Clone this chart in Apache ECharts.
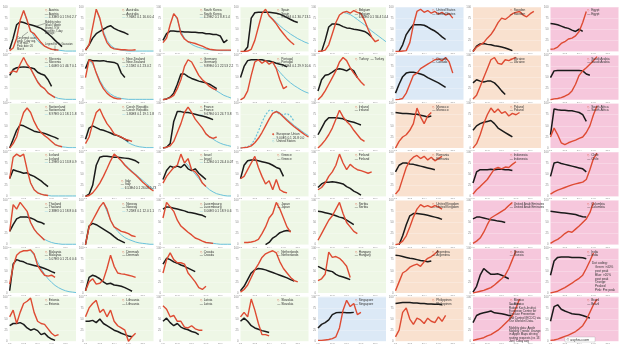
<!DOCTYPE html>
<html><head><meta charset="utf-8">
<script src="https://cdn.jsdelivr.net/npm/echarts@6/dist/echarts.min.js"></script>
<style>html,body{margin:0;padding:0;background:#fff}#c{width:620px;height:348px}</style>
</head><body><div id="c"></div>
<script>
const _ = null;
// x categories (weekly) and tick labels
const days = ['1/3','8/3','15/3','22/3','29/3','5/4','12/4','19/4','26/4','3/5','10/5','17/5','24/5','31/5','7/6','14/6','21/6','28/6','5/7','12/7'];
const yTicks = [0, 25, 50, 75, 100];
// Row 1
const AUT_r = [2,8,30,70,92,70,45,40,30,20,12,8,5,4,3];
const AUT_b = [5,30,60,67,65,62,60,58,55,52,47,40,33,25,18,11];
const AUT_f = [_,_,_,_,92,68,48,34,24,17,12,8,5,4,3,2,1,1,1,1];
const AUS_r = [3,15,55,95,75,40,20,10,6,5,4,4,3,3,4];
const AUS_b = [3,15,30,40,45,50,55,58,52,48,45,42,38];
const AUS_f = [_,_,_,95,72,45,25,14,8,5,3,2,1,1,1,1,1,1,1,1];
const KOR_r = [20,30,60,85,75,40,28,22,20,18,15,12,8,5,4,3,3,3,3,3];
const KOR_b = [25,40,46,46,45,45,44,44,43,43,42,42,40,40,38,38,35,20,26];
const KOR_f = [_,_,_,85,72,45,30,22,16,12,9,7,5,4,3,3,2,2,2,2];
const ESP_r = [0,0,1,5,25,55,85,95,80,72,62,50,40,30,22,15];
const ESP_b = [_,0,10,75,87,88,88,88,88,87,86,84,80,76,72,68,65];
const ESP_f = [_,_,_,_,_,_,_,_,82,74,66,58,51,45,39,34,29,25,21,18];
const BEL_r = [0,1,3,15,40,65,82,88,90,86,92,88,85,70,50,32,22,26];
const BEL_b = [_,0,25,55,62,62,60,56,53,52,50,49,47,45,40,33];
const BEL_f = [_,_,_,_,_,_,_,88,86,83,78,72,66,60,53,46,40,34,28,22];
const USA_r = [0,0,1,2,20,60,90,95,88,92,86,90,84,88,82,85,75];
const USA_b = [_,0,15,38,50,60,60,60,59,55,50,46,40,33,27];
const SWE_r = [0,10,15,20,30,38,50,65,75,72,78,85,88,90,82,78,85,90];
const SWE_b = [0,12,17,18,16,15,13,12,10,8,5,2];
const EGY_r = [5,6,10,18,22,28,30,35,45,65,90];
const EGY_b = [63,62,60,57,54,52,48,45,50,45];
// Row 2
const SVN_r = [60,65,62,80,95,80,70,55,40,30,25,15,10,5];
const SVN_b = [55,68,72,73,74,73,72,70,62,58,55,45,30];
const SVN_f = [_,_,_,_,_,_,70,55,42,32,24,16,10,6,3,2,1,1,1,1];
const NZL_r = [50,90,85,60,40,25,15,8,4,2,2];
const NZL_b = [70,90,88,88,87,88,86,85,84,80,60,50];
const NZL_f = [_,90,80,62,44,30,20,13,8,5,3,2,1,1,1,1,1,1,1,1];
const DEU_r = [0,2,5,10,25,45,75,90,85,70,55,45,38,30,25,22];
const DEU_b = [0,2,6,15,35,58,58,52,48,45,42,40,38,35,30,25];
const DEU_f = [_,_,_,_,_,_,_,_,_,_,_,_,_,_,25,20,15,10,7,4];
const PRT_r = [0,5,20,55,85,90,82,88,80,85,70,45,25,30];
const PRT_b = [50,75,88,90,90,90,90,88,87,85,82,80,78,74];
const PRT_f = [_,_,_,_,_,_,_,_,_,82,72,62,53,45,38,32,27,22,18,15];
const TUR_r = [0,8,20,35,50,65,85,95,88,72,60,50,40,32];
const TUR_b = [20,45,55,57,62,68,70,68,65,70,65,50];
const CAN_r = [0,1,3,15,35,55,60,70,75,80,85,90,92,88,95,85,60];
const CAN_b = [15,35,52,60,62,62,60,58,55,50,46,42,38,33,28];
const UKR_r = [2,10,30,50,70,90,95,82,80,90,88,92,95];
const UKR_b = [38,45,42,40,42,42,38,30,20,12];
const SAU_r = [0,2,3,5,8,12,20,35,55,65,72,80,88,97];
const SAU_b = [50,65,66,66,66,66,66,66,66,65,58,55];
// Row 3
const CHE_r = [0,10,25,55,80,90,80,60,45,35,28,22,15,8,5,3];
const CHE_b = [0,20,40,52,50,46,42,38,36,35,33,30,27,24,20];
const CHE_f = [_,_,_,_,_,_,_,_,_,_,_,_,_,8,5,3,2,1,1,1];
const CZE_r = [10,25,55,80,88,70,55,45,32,28,25,20,18,15];
const CZE_b = [20,45,50,46,42,40,37,34,30,28,24,20,15];
const CZE_f = [_,_,_,_,_,_,_,_,_,28,24,18,12,8,5,3,2,1,1,1];
const FRA_r = [0,2,5,15,35,55,80,92,80,65,55,45,32,25,22,25];
const FRA_b = [0,2,10,60,82,82,80,80,78,76,74,72,70,67,64];
const FRA_f = [_,_,_,_,_,_,_,_,_,_,_,_,32,26,20,15,11,8,6,4];
const EU_r = [0,1,2,5,12,22,35,50,65,78,82,78,70,62,55,48,42,36,30,25];
const EU_us = [0,1,3,8,20,38,58,75,85,84,80,76,75,78,72,60];
const EU_f = [_,_,_,_,_,_,_,_,_,_,84,79,72,65,58,51,45,39,33,28];
const IRL_r = [0,8,18,30,45,65,85,70,60,52,40,30,20,15];
const IRL_b = [30,45,60,68,68,68,67,66,62,60,58,55,52];
const MAR_r = [0,15,25,30,40,55,90,70,55,72,80];
const MAR_b = [80,79,78,78,77,76,76,74,72,70,72];
const POL_r = [0,10,30,55,75,90,80,88,78,82,72,78,75,80];
const POL_b = [40,50,55,58,60,62,55,45,40,35,30,25];
const ZAF_r = [25,45,30,12,8,12,15,18,22,25,35,50,75,95];
const ZAF_b = [30,88,86,85,85,84,84,82,80,75,60];
// Row 4
const ISL_r = [40,88,95,90,95,60,30,15,8,5,3,2];
const ISL_b = [40,60,57,55,52,53,48,45,40,35,28,22];
const ISL_f = [_,_,_,_,_,_,30,16,9,5,3,2,1,1,1,1,1,1,1,1];
const ITA_r = [0,2,8,18,30,45,62,80,95,88,80,70,62,55,48,40,32,25,18,12];
const ITA_b = [0,5,25,70,88,90,90,89,88,88,87,86,85,83,80,75];
const ITA_f = [_,_,_,_,_,_,_,_,95,88,80,72,64,57,50,43,36,29,22,16];
const ISR_r = [30,45,55,65,70,95,75,85,60,55,45,30,22];
const ISR_b = [38,58,68,65,68,65,72,62,58,62,52,45,38];
const ISR_f = [_,_,_,_,_,_,78,70,60,50,40,30,22,15,10,6,4,2,1,1];
const GRC_r = [40,45,60,75,90,65,45,28,35,15,38,15,10,8];
const GRC_b = [40,70,80,82,82,80,78,76,74,70,65,62,45];
const FIN_r = [15,20,30,45,55,70,95,75,60,72,65,60,58,55,52,55];
const FIN_b = [20,28,32,32,33,32,30,28,22,18,12,8,3];
const ROU_r = [5,15,40,65,80,88,92,85,90,82,88,80,85,90];
const ROU_b = [55,70,75,75,73,72,70,68,66,64,62,60];
const IDN_r = [5,15,22,30,38,50,62,65,62,66,65,72,78];
const IDN_b = [30,55,60,60,60,61,60,61,61,60,60,58];
const CHL_r = [5,10,14,17,20,23,26,28,30,32,38,60,85,97];
const CHL_b = [45,75,77,74,72,70,68,66,64,62,55];
// Row 5
const THA_r = [30,90,80,95,85,75,50,35,25,18,10];
const THA_b = [30,45,58,62,62,62,60,57,52,50,46];
const THA_f = [_,_,_,_,_,70,50,35,25,17,12,8,5,3,2,1,1,1,1,1];
const NOR_r = [0,40,55,70,85,95,80,55,40,35,30,28,25,20,18];
const NOR_b = [0,42,48,45,40,35,30,25,18,12,8,4];
const NOR_f = [_,_,_,_,_,95,75,55,40,30,22,16,12,9,6,4,3,2,1,1];
const LUX_r = [60,95,85,75,55,42,35,28,22,15,12,8,5,4,3];
const LUX_b = [80,85,84,82,80,78,76,73,72,70,68,66,62];
const LUX_f = [_,_,_,_,_,_,_,_,_,_,_,_,5,4,3,2,1,1,1,1];
const JPN_r = [_,5,5,6,8,12,25,40,60,70,95,80,60,40,28];
const JPN_b = [_,_,_,_,_,_,_,0,5,15,20,27,30,32,30];
const SRB_r = [10,25,40,55,65,80,95,70,50,40,30,25];
const SRB_b = [75,74,72,70,68,65,62,60,55,50,45];
const GBR_r = [0,2,8,20,40,62,80,90,85,88,84,88,85,80];
const GBR_b = [_,0,20,45,65,70,70,69,68,66,64,62,60,57];
const ARE_r = [3,8,15,28,45,60,65,70,75,80,88,95];
const ARE_b = [58,62,62,60,58,56,55,53,52,50];
const COL_r = [3,8,12,18,25,30,28,35,42,50,58,72,95];
const COL_b = [75,74,73,72,71,70,69,68,65,63,62];
// Row 6
const MYS_r = [20,60,85,92,95,95,97,88,62,50,40,38,40,35];
const MYS_b = [5,65,75,72,70,66,64,62,60,58,55,52,48,45];
const MYS_f = [_,_,_,_,_,_,95,85,70,55,42,32,24,17,12,8,5,3,2,1];
const DNK_r = [5,25,32,20,22,30,55,85,60,45,43,42,40,38,35];
const DNK_b = [5,35,40,37,32,25,20,22,18,17,15,12,8,4];
const HRV_r = [45,75,90,75,68,68,65,45,35,25,12,8,15];
const HRV_b = [65,78,75,70,67,63,60,56,52,48];
const NLD_r = [2,8,18,35,52,65,80,88,92,95,90,70,55,45,35,28,25];
const NLD_b = [5,15,30,45,52,55,54,52,49,46,43,40,37,34,30,27];
const HUN_r = [28,32,42,92,80,82,78,70,60,35];
const HUN_b = [60,56,52,50,48,42,38,36,33,30];
const ARG_r = [5,25,45,50,58,62,65,60,70,78,82,88,95];
const ARG_b = [85,84,82,80,78,77,75,73,72,70,72];
const RUS_r = [0,2,4,6,9,12,18,25,32,40,55,75,95];
const RUS_b = [2,15,40,55,48,42,42,43,40,36,32];
const IND_r = [0,2,4,8,12,17,22,28,33,40,55,72,90];
const IND_b = [40,72,80,81,81,81,80,80,80,79,77];
// Row 7
const EST_r = [55,70,40,65,85,90,97,65,45,40,38,28,18,12,15];
const EST_b = [35,40,40,42,38,30,25,28,24,15,18,10,5,2];
const LTU_r = [55,75,85,92,65,72,55,70,45,35,30,25,0,10,18];
const LTU_b = [45,45,47,42,50,40,35,30,25,22,18,15,12,10];
const LVA_r = [80,72,55,58,45,45,32,30,35,28,25,25];
const LVA_b = [45,52,42,35,40,32,28,26,22,20,15];
const SVK_r = [55,65,55,95,70,40,15,15,12];
const SVK_b = [45,52,45,35,30,27,24,22,20];
const SGP_r = [2,2,3,4,6,10,30,70,92,78,85,60,65];
const SGP_b = [30,38,42,48,60,64,65,65,64,64,65];
const PHL_r = [10,25,65,75,50,38,52,48,40,52,45,42,55,45,58];
const PHL_b = [85,86,87,87,87,86,86,85,85,84,84,83,83,82];
const MEX_r = [2,4,6,8,12,15,20,25,32,40,48,58,75,95];
const MEX_b = [42,58,62,64,66,68,64,63,62,60,58,57];
const BRA_r = [2,3,5,8,11,14,18,22,28,35,48,65,82,95];
const BRA_b = [45,78,82,72,68,65,62,61,60,58,55,52];

// panel backgrounds per row: G green, B blue, P peach, K pink
const rowBg = ['GGGGGBPK','GGGGGBPK','GGGGGPPK','GGGGGPKK','GGGGGPKK','GGGGGPKK','GGGGBPKK'];
const panels = [
 ['Austria',AUT_r,AUT_b,AUT_f,'4.33E3 0.1 19.6 2.7'],['Australia',AUS_r,AUS_b,AUS_f,'7.96E2 0.1 16.6 0.4'],['South Korea',KOR_r,KOR_b,KOR_f,'4.29E2 0.1 8.8 1.4'],['Spain',ESP_r,ESP_b,ESP_f,'9.56E4 0.1 30.7 13.1'],['Belgium',BEL_r,BEL_b,BEL_f,'6.06E4 0.1 34.4 14.4'],['United States',USA_r,USA_b,null,''],['Sweden',SWE_r,SWE_b,null,''],['Egypt',EGY_r,EGY_b,null,''],
 ['Slovenia',SVN_r,SVN_b,SVN_f,'1.60E3 0.1 46.7 0.1'],['New Zealand',NZL_r,NZL_b,NZL_f,'2.15E2 0.1 23.0 2'],['Germany',DEU_r,DEU_b,DEU_f,'9.89E4 0.1 22.53 2.2'],['Portugal',PRT_r,PRT_b,PRT_f,'1.40E4 0.1 29.9 10.6'],['Turkey',TUR_r,TUR_b,null,''],['Canada',CAN_r,CAN_b,null,''],['Ukraine',UKR_r,UKR_b,null,''],['Saudi Arabia',SAU_r,SAU_b,null,''],
 ['Switzerland',CHE_r,CHE_b,CHE_f,'8.97E3 0.1 18.1 1.8'],['Czech Republic',CZE_r,CZE_b,CZE_f,'1.80E3 0.1 19.1 1.8'],['France',FRA_r,FRA_b,FRA_f,'9.67E4 0.1 24.7 3.8'],['European Union',EU_r,null,EU_f,'9.00E5 0.1 26.8 0.0'],['Ireland',IRL_r,IRL_b,null,''],['Morocco',MAR_r,MAR_b,null,''],['Poland',POL_r,POL_b,null,''],['South Africa',ZAF_r,ZAF_b,null,''],
 ['Iceland',ISL_r,ISL_b,ISL_f,'1.29E3 0.1 13.8 0.9'],['Italy',ITA_r,ITA_b,ITA_f,'6.53E4 0.1 26.06 1.73'],['Israel',ISR_r,ISR_b,ISR_f,'1.22E4 0.1 24.4 0.07'],['Greece',GRC_r,GRC_b,null,''],['Finland',FIN_r,FIN_b,null,''],['Romania',ROU_r,ROU_b,null,''],['Indonesia',IDN_r,IDN_b,null,''],['Chile',CHL_r,CHL_b,null,''],
 ['Thailand',THA_r,THA_b,THA_f,'2.38E3 0.1 18.8 0.6'],['Norway',NOR_r,NOR_b,NOR_f,'7.25E3 0.1 12.0 1.1'],['Luxembourg',LUX_r,LUX_b,LUX_f,'3.00E3 0.1 18.9 0.6'],['Japan',JPN_r,JPN_b,null,''],['Serbia',SRB_r,SRB_b,null,''],['United Kingdom',GBR_r,GBR_b,null,''],['United Arab Emirates',ARE_r,ARE_b,null,''],['Colombia',COL_r,COL_b,null,''],
 ['Malaysia',MYS_r,MYS_b,MYS_f,'5.07E3 0.1 21.6 0.6'],['Denmark',DNK_r,DNK_b,null,''],['Croatia',HRV_r,HRV_b,null,''],['Netherlands',NLD_r,NLD_b,null,''],['Hungary',HUN_r,HUN_b,null,''],['Argentina',ARG_r,ARG_b,null,''],['Russia',RUS_r,RUS_b,null,''],['India',IND_r,IND_b,null,''],
 ['Estonia',EST_r,EST_b,null,''],['Lithuania',LTU_r,LTU_b,null,''],['Latvia',LVA_r,LVA_b,null,''],['Slovakia',SVK_r,SVK_b,null,''],['Singapore',SGP_r,SGP_b,null,''],['Philippines',PHL_r,PHL_b,null,''],['Mexico',MEX_r,MEX_b,null,''],['Brazil',BRA_r,BRA_b,null,'']
];

const BG = {G:'#eef7e6', B:'#dce9f6', P:'#f9e1cf', K:'#f6c7dc'};
const RED = '#de4b33', BLACK = '#1a1a1a', FIT = '#69c1db';
const L0 = 8, PX = 77.5, W = 68, T0 = 7, PY = 48.3, H = 44.5;
const FONT = 'Liberation Sans, Arial, sans-serif';

const grid = [], xAxis = [], yAxis = [], series = [], graphic = [];
function txt(x, y, s, size, color, extra) {
  graphic.push(Object.assign({type:'text', x, y, silent:true, z:50,
    style:{text:s, fontSize:size, fontFamily:FONT, fill:color||'#333', textVerticalAlign:'top'}}, extra||{}));
}
function line(x1,y1,x2,y2,color,w){
  graphic.push({type:'line', silent:true, z:50, shape:{x1,y1,x2,y2}, style:{stroke:color, lineWidth:w||0.4}});
}
panels.forEach((p, i) => {
  const r = Math.floor(i / 8), c = i % 8;
  const gx = L0 + c * PX, gy = T0 + r * PY;
  grid.push({left:gx, top:gy, width:W, height:H, show:true, backgroundColor:BG[rowBg[r][c]], borderWidth:0, containLabel:false});
  xAxis.push({gridIndex:i, type:'category', data:days, boundaryGap:false,
    axisLine:{show:false}, axisTick:{show:false}, splitLine:{show:false},
    axisLabel:{fontSize:2.4, color:'#999', margin:1.2, interval:3, fontFamily:FONT}});
  yAxis.push({gridIndex:i, type:'value', min:yTicks[0], max:yTicks[yTicks.length-1], interval:yTicks[1]-yTicks[0],
    axisLine:{show:false}, axisTick:{show:false},
    splitLine:{show:true, lineStyle:{color:'rgba(255,255,255,0.5)', width:0.5}},
    axisLabel:{fontSize:2.8, color:'#888', margin:2, fontFamily:FONT}});
  const name = p[0];
  if (p[3]) series.push({type:'line', xAxisIndex:i, yAxisIndex:i, data:p[3], symbol:'none', silent:true, z:1,
    lineStyle:{color:FIT, width:1}});
  if (name === 'European Union') series.push({type:'line', xAxisIndex:i, yAxisIndex:i, data:EU_us, symbol:'none', silent:true, z:2,
    lineStyle:{color:FIT, width:1.2, type:[2,1.5]}});
  if (p[2]) series.push({type:'line', xAxisIndex:i, yAxisIndex:i, data:p[2], symbol:'none', silent:true, z:2,
    lineStyle:{color:BLACK, width:1.5}});
  series.push({type:'line', xAxisIndex:i, yAxisIndex:i, data:p[1], symbol:'none', silent:true, z:3,
    lineStyle:{color:RED, width:1.4}});
  // legend
  const fs = 3.2;
  if (name === 'Turkey') {
    const lx = gx + W*0.55, ly = gy + 2.5;
    txt(lx, ly, '◇', fs, RED); txt(lx+3.5, ly, 'Turkey', fs, '#333');
    txt(lx+15, ly, '—', fs, BLACK); txt(lx+19, ly, 'Turkey', fs, '#333');
    return;
  }
  let lx = gx + W*0.54, ly = gy + 2;
  if (name === 'European Union') { lx = gx + W*0.47; ly = gy + H*0.66; }
  if (name === 'Italy') { lx = gx + W*0.52; ly = gy + H*0.62; }
  const entries = [['◇', RED, name]];
  if (name === 'European Union') {
    entries[0] = ['◆', RED, name];
    entries.push(['—', FIT, p[4]]);
    entries.push(['◇', FIT, 'United States']);
  } else {
    entries.push(['—', BLACK, name]);
    if (p[3]) entries.push(['—', FIT, p[4]]);
  }
  entries.forEach((e, k) => {
    txt(lx, ly + k*3.5, e[0], fs, e[1]);
    txt(lx + 4, ly + k*3.5, e[2], fs, '#333');
  });
});

// Austria annotations
const aF = 2.6, aC = '#333';
['Mobility index','(black): Apple','driving, % of','baseline, 7-day','average'].forEach((s,k)=>txt(45, 21+k*2.8, s, aF, aC));
line(45, 23.5, 35, 26.5, '#333', 0.4);
['Confirmed cases','(red): 7-day avg,','% of max.','Peak date: 26','March'].forEach((s,k)=>txt(17, 36.5+k*2.8, s, aF, aC));
line(22, 36.5, 28, 32, '#333', 0.4);
txt(45, 43, 'Legend for fit: Gaussian', aF, aC);
line(55, 45.5, 55, 51, '#333', 0.4);

// India: dot coding
['Dot coding:','Green: >40%','post peak','Blue: >20%','post peak','Orange:','Peaked','Pink: Pre peak'].forEach((s,k)=>
  txt(k===0?592:595, 262+k*3.8, s, 3.1, '#333'));
// Mexico: sources
['Sources:','Robert Koch-Institut,','European Centre for','Disease Prevention','and Control (ECDC) via','Our World in Data.','','Mobility data: Apple','Mobility Trends: change','in Apple Maps driving','routing requests (vs 13','Jan) 7-day avg'].forEach((s,k)=>
  txt(509, 303+k*3.35, s, 3.0, '#333'));
// Brazil: credit
graphic.push({type:'rect', silent:true, z:49, shape:{x:565, y:337, width:30, height:5}, style:{fill:'#fff', stroke:'#999', lineWidth:0.3}});
txt(566.5, 337.8, '© asyhsu.com', 3.6, '#333');

const chart = echarts.init(document.getElementById('c'), null, {renderer:'canvas'});
chart.setOption({animation:false, backgroundColor:'#fff', grid, xAxis, yAxis, series, graphic});
</script>
</body></html>
